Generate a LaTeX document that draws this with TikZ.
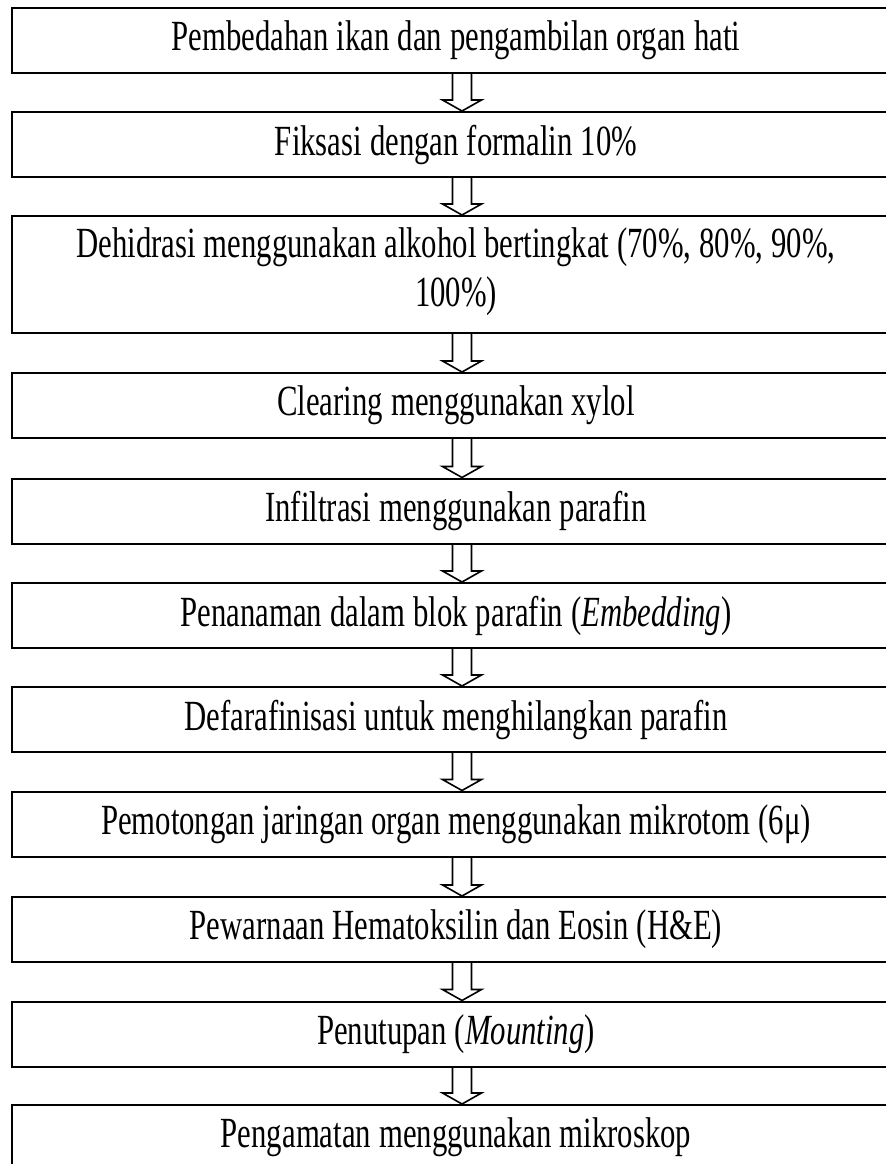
\documentclass[tikz,border=0pt]{standalone}
\usepackage{fontspec}
\setmainfont[FakeStretch=0.715]{Liberation Serif}
\usetikzlibrary{calc}

\newcommand{\tightspace}{\spaceskip=4pt\relax\xspaceskip=4pt\relax}

\tikzset{
  stepbox/.style={draw, line width=1pt, minimum width=444pt, minimum height=32.5pt,
    text width=430pt, inner xsep=7pt, inner ysep=0pt, align=center,
    font=\fontsize{21.5pt}{24.5pt}\selectfont, execute at begin node=\tightspace},
  blockarrow/.style={draw, line width=0.8pt, line join=miter}
}

% outline arrow from the bottom of one box to the top of the next
\newcommand{\flowarrow}[2]{%
  \draw[blockarrow] ([xshift=-1.75pt]#1.south) -- ([xshift=-1.75pt,yshift=5.5pt]#2.north)
    -- ([xshift=-6.75pt,yshift=5.5pt]#2.north) -- ([xshift=3pt]#2.north)
    -- ([xshift=12.75pt,yshift=5.5pt]#2.north) -- ([xshift=7.75pt,yshift=5.5pt]#2.north)
    -- ([xshift=7.75pt]#1.south);}

\begin{document}
\begin{tikzpicture}[x=0.5pt, y=-0.5pt]
\useasboundingbox (0,0) rectangle (886,1164);
\clip (0,0) rectangle (886,1164);

\node[stepbox] (diseksi)   at (456,40.5)  {Pembedahan ikan dan pengambilan organ hati};
\node[stepbox] (fiksasi)   at (456,144.5) {Fiksasi dengan formalin 10\%};
\node[stepbox, minimum height=58.5pt] (dehidrasi) at (456,274.5)
  {Dehidrasi menggunakan alkohol bertingkat (70\%, 80\%, 90\%,\\ 100\%)\\[-17pt]\mbox{}};
\node[stepbox] (clearing)  at (456,405.5) {Clearing menggunakan xylol};
\node[stepbox] (infiltrasi) at (456,511)  {Infiltrasi menggunakan parafin};
\node[stepbox] (embedding) at (456,615.5) {Penanaman dalam blok parafin (\textit{Embedding})};
\node[stepbox] (deparafin) at (456,719.5) {Defarafinisasi untuk menghilangkan parafin};
\node[stepbox] (potong)    at (456,824)   {Pemotongan jaringan organ menggunakan mikrotom (6μ)};
\node[stepbox] (pewarnaan) at (456,929.5) {Pewarnaan Hematoksilin dan Eosin (H\&E)};
\node[stepbox] (mounting)  at (456,1034)  {Penutupan (\textit{Mounting})};
\node[stepbox] (amati)     at (456,1137.5) {Pengamatan menggunakan mikroskop};

\foreach \a/\b in {diseksi/fiksasi, fiksasi/dehidrasi, dehidrasi/clearing,
  clearing/infiltrasi, infiltrasi/embedding, embedding/deparafin,
  deparafin/potong, potong/pewarnaan, pewarnaan/mounting, mounting/amati}
  \flowarrow{\a}{\b};
\end{tikzpicture}
\end{document}
